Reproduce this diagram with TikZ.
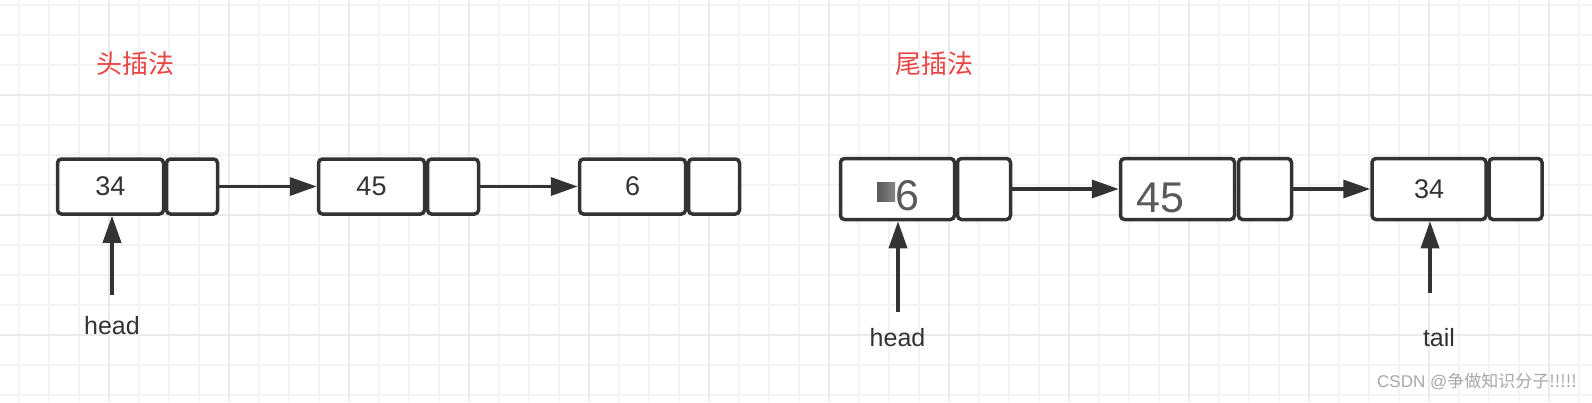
\documentclass[tikz,border=0pt]{standalone}
\usepackage{fontspec}
\setmainfont{Liberation Sans}
\newfontfamily\cjk{Noto Sans CJK SC}
\usetikzlibrary{arrows.meta}
\definecolor{ink}{HTML}{333333}
\definecolor{gridminor}{HTML}{F3F3F3}
\definecolor{gridmajor}{HTML}{EAEAEA}
\definecolor{titlered}{HTML}{E84545}
\definecolor{biggray}{HTML}{5A5A5A}
\definecolor{wmgray}{HTML}{A8A8A8}
\begin{document}
\begin{tikzpicture}[x=1pt,y=-1pt,
  minorline/.style={draw=gridminor,line width=1.5pt},
  majorline/.style={draw=gridmajor,line width=2pt},
  cell/.style={draw=ink,fill=white,line width=3.5pt,rounded corners=4pt,inner sep=0pt,
    text=ink,font=\fontsize{27}{30}\selectfont},
  dataL/.style={cell,minimum width=106pt,minimum height=55pt},
  ptrL/.style={cell,minimum width=51pt,minimum height=55pt},
  dataR/.style={cell,minimum width=114pt,minimum height=61pt},
  ptrR/.style={cell,minimum width=53pt,minimum height=61pt},
  link/.style={draw=ink,line width=3.5pt,-{Triangle[length=27pt,width=18pt]}},
  lbl/.style={text=ink,inner sep=0pt,font=\fontsize{25}{30}\selectfont},
  title/.style={text=titlered,inner sep=0pt,anchor=base,font=\cjk\fontsize{26}{30}\selectfont},
  bignum/.style={text=biggray,inner sep=0pt,font=\fontsize{43}{50}\selectfont}
]
\fill[white] (0,0) rectangle (1592,402);
\useasboundingbox (0,0) rectangle (1592,402);
% grid
\foreach \x in {19,49,...,1590} \draw[minorline] (\x,0) -- (\x,402);
\foreach \y in {5,35,...,400} \draw[minorline] (0,\y) -- (1592,\y);
\foreach \x in {109,229,...,1590} \draw[majorline] (\x,0) -- (\x,402);
\foreach \y in {95,215,335} \draw[majorline] (0,\y) -- (1592,\y);

% titles
\node[title] (t1) at (135,73) {头插法};
\node[title] (t2) at (934.5,73) {尾插法};

% left list (head insertion)
\node[dataL] (L1d) at (110.5,186.5) {34};
\node[ptrL]  (L1p) at (192,186.5) {};
\node[dataL] (L2d) at (371.5,186.5) {45};
\node[ptrL]  (L2p) at (453,186.5) {};
\node[dataL] (L3d) at (632.5,186.5) {6};
\node[ptrL]  (L3p) at (714,186.5) {};
\draw[link] (L1p.east) -- (L2d.west);
\draw[link] (L2p.east) -- (L3d.west);
\coordinate (hL) at (112,295);
\draw[link] (hL) -- (hL |- L1d.south);
\node[lbl] (headL) at (112,326) {head};

% right list (tail insertion)
\node[dataR] (R1d) at (897.5,189) {};
\node[ptrR]  (R1p) at (984,189) {};
\node[dataR] (R2d) at (1177.5,189) {};
\node[ptrR]  (R2p) at (1265,189) {};
\node[dataR] (R3d) at (1429,189) {34};
\node[ptrR]  (R3p) at (1515.5,189) {};
\shade[left color=biggray,right color=biggray!75!white] (877,182) rectangle (895,201);
\node[bignum] (six) at (907.5,195.5) {6};
\node[bignum] (ff) at (1160,198) {45};
\draw[link] (R1p.east) -- (R2d.west);
\draw[link] (R2p.east) -- (R3d.west);
\coordinate (hR) at (898,312);
\draw[link] (hR) -- (hR |- R1d.south);
\node[lbl] (headR) at (897.5,338) {head};
\coordinate (tR) at (1430,293);
\draw[link] (tR) -- (tR |- R3d.south);
\node[lbl] (tailR) at (1439,338) {tail};

% watermark
\node[text=wmgray,inner sep=0pt,anchor=east,font=\fontsize{17}{20}\selectfont] (wm) at (1577,381.5) {CSDN @{\cjk 争做知识分子!!!!!}};
\end{tikzpicture}
\end{document}
